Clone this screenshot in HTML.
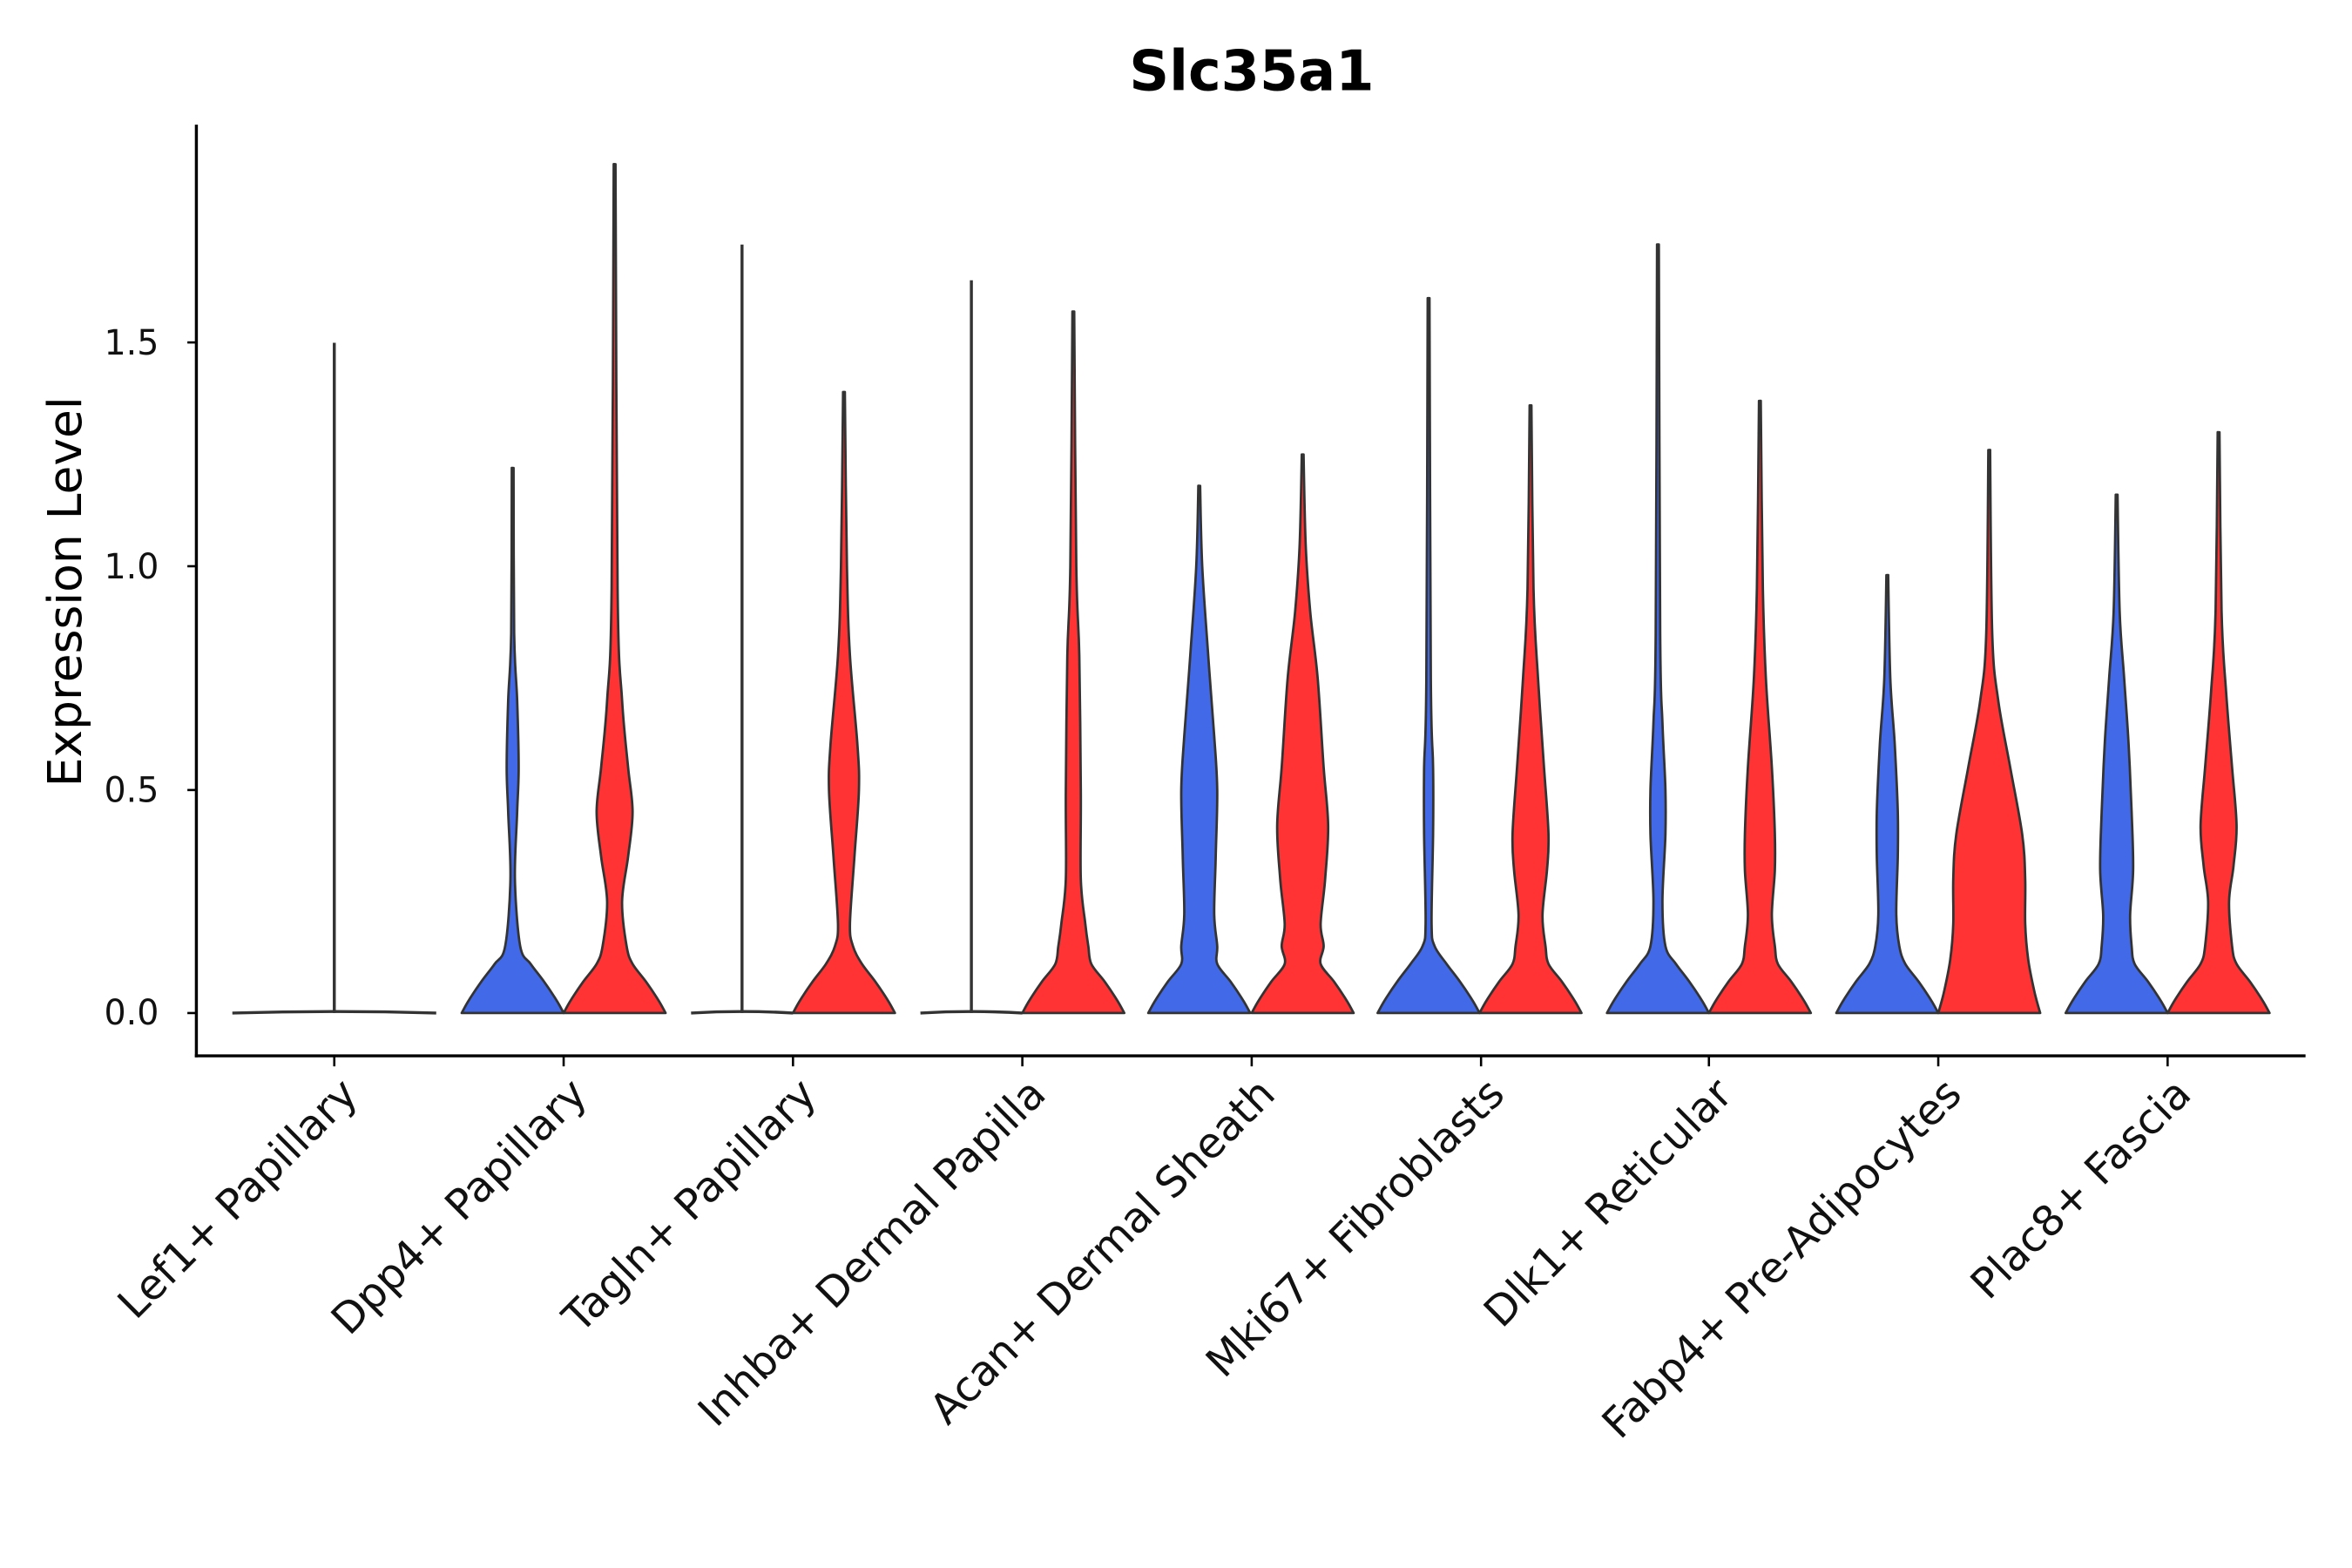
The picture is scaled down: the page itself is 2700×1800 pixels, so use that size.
<!DOCTYPE html>
<html><head><meta charset="utf-8"><style>html,body{margin:0;padding:0;background:#fff}svg{display:block}</style></head>
<body>
<svg id="s" xmlns="http://www.w3.org/2000/svg" width="2700" height="1800" viewBox="0 0 1569 1044" preserveAspectRatio="none" font-family="'DejaVu Sans', 'Liberation Sans', sans-serif">
<rect width="1569" height="1044" fill="#fff"/>
<g id="v"></g>
<line x1="131" y1="83" x2="131" y2="704" stroke="#000" stroke-width="2"/>
<line x1="130" y1="703" x2="1538" y2="703" stroke="#000" stroke-width="2"/>
<g stroke="#000" stroke-width="1.5">
<line x1="125" y1="674.5" x2="131" y2="674.5"/><line x1="125" y1="526" x2="131" y2="526"/><line x1="125" y1="377" x2="131" y2="377"/><line x1="125" y1="228" x2="131" y2="228"/>
<line x1="223" y1="703" x2="223" y2="710"/><line x1="376" y1="703" x2="376" y2="710"/><line x1="529" y1="703" x2="529" y2="710"/><line x1="682" y1="703" x2="682" y2="710"/><line x1="835" y1="703" x2="835" y2="710"/><line x1="988" y1="703" x2="988" y2="710"/><line x1="1140" y1="703" x2="1140" y2="710"/><line x1="1293" y1="703" x2="1293" y2="710"/><line x1="1446" y1="703" x2="1446" y2="710"/>
</g>
<g font-size="23" text-anchor="end" fill="#111">
<text x="106" y="682">0.0</text><text x="106" y="534">0.5</text><text x="106" y="385">1.0</text><text x="106" y="236">1.5</text>
</g>
<text x="835" y="60" font-size="37" font-weight="bold" text-anchor="middle">Slc35a1</text>
<text transform="translate(54,394) rotate(-90)" font-size="31" text-anchor="middle">Expression Level</text>
<g font-size="28" text-anchor="end" fill="#111">
<text transform="translate(240,730) rotate(-45)">Lef1+ Papillary</text>
<text transform="translate(393,730) rotate(-45)">Dpp4+ Papillary</text>
<text transform="translate(546,730) rotate(-45)">Tagln+ Papillary</text>
<text transform="translate(699,730) rotate(-45)">Inhba+ Dermal Papilla</text>
<text transform="translate(852,730) rotate(-45)">Acan+ Dermal Sheath</text>
<text transform="translate(1005,730) rotate(-45)">Mki67+ Fibroblasts</text>
<text transform="translate(1157,730) rotate(-45)">Dlk1+ Reticular</text>
<text transform="translate(1310,730) rotate(-45)">Fabp4+ Pre-Adipocytes</text>
<text transform="translate(1463,730) rotate(-45)">Plac8+ Fascia</text>
</g>
</svg>
<script>
const Y=v=>674.5-v*297.5;
function base(n){return [[0,34],[0.03,29],[0.07,21],[0.11,12],[0.15,n+2]];}
const V=[
 [223,'#444',null,1.5,68],
 [342,'#4169E8',[...base(3),[0.3,1.5],[0.45,3],[0.55,4],[0.7,3],[0.85,1],[1.22,0.6]]],
 [410,'#FF3333',[...base(6),[0.25,5],[0.35,9],[0.45,12],[0.55,9],[0.7,5],[0.95,2],[1.9,0.6]]],
 [495,'#444',null,1.72,34],
 [563,'#FF3333',[...base(4),[0.2,4],[0.35,7],[0.5,10],[0.6,9],[0.8,4],[1.0,2],[1.39,0.6]]],
 [648,'#444',null,1.64,34],
 [716,'#FF3333',[...base(8),[0.2,8],[0.3,5],[0.5,5],[0.8,4],[1.0,2],[1.57,0.6]]],
 [800,'#4169E8',[...base(10),[0.22,10],[0.35,11],[0.5,12],[0.62,10],[0.8,6],[1.0,2],[1.18,0.6]]],
 [869,'#FF3333',[...base(12),[0.2,12],[0.3,15],[0.42,17],[0.55,14],[0.75,10],[0.9,5],[1.05,2],[1.25,0.6]]],
 [953,'#4169E8',[...base(2),[0.2,2],[0.4,3],[0.55,3],[0.75,1.5],[1.6,0.6]]],
 [1021,'#FF3333',[...base(8),[0.22,8],[0.32,11],[0.4,12],[0.55,9],[0.75,5],[0.95,2],[1.36,0.6]]],
 [1106,'#4169E8',[...base(3),[0.25,3],[0.4,5],[0.5,5],[0.65,3],[0.85,1.5],[1.72,0.6]]],
 [1174,'#FF3333',[...base(8),[0.22,8],[0.32,10],[0.4,10],[0.55,8],[0.75,4],[0.95,2],[1.37,0.6]]],
 [1259,'#4169E8',[...base(6),[0.22,6],[0.35,7],[0.45,7],[0.6,5],[0.75,2],[0.98,0.6]]],
 [1327,'#FF3333',[[0,34],[0.05,30],[0.12,26],[0.2,24],[0.3,24],[0.4,22],[0.55,14],[0.7,6],[0.85,2],[1.26,0.6]]],
 [1412,'#4169E8',[...base(8),[0.22,9],[0.32,11],[0.45,10],[0.6,8],[0.75,5],[0.9,2],[1.16,0.6]]],
 [1480,'#FF3333',[...base(7),[0.25,7],[0.33,10],[0.42,12],[0.55,9],[0.72,5],[0.9,2],[1.3,0.6]]]
];
function smooth(pts){let d='M'+pts[0][0]+','+pts[0][1];for(let i=0;i<pts.length-1;i++){const p0=pts[Math.max(0,i-1)],p1=pts[i],p2=pts[i+1],p3=pts[Math.min(pts.length-1,i+2)];const c1=[p1[0]+(p2[0]-p0[0])/6,p1[1]+(p2[1]-p0[1])/6],c2=[p2[0]-(p3[0]-p1[0])/6,p2[1]-(p3[1]-p1[1])/6];d+=`C${c1[0].toFixed(1)},${c1[1].toFixed(1)} ${c2[0].toFixed(1)},${c2[1].toFixed(1)} ${p2[0].toFixed(1)},${p2[1].toFixed(1)}`;}return d;}
let out='';
for(const v of V){const cx=v[0];
 if(!v[2]){out+=`<line x1="${cx}" y1="${Y(v[3])}" x2="${cx}" y2="${Y(0)}" stroke="#333" stroke-width="2"/><path d="M${cx-v[4]},${Y(0)} Q${cx},${Y(0)-2} ${cx+v[4]},${Y(0)}" fill="none" stroke="#333" stroke-width="2"/>`;continue;}
 const p=v[2];const R=p.map(a=>[cx+a[1],Y(a[0])]);const L=p.slice().reverse().map(a=>[cx-a[1],Y(a[0])]);
 out+=`<path d="${smooth(R)} L${L[0][0]},${L[0][1]} ${smooth(L).slice(1).replace(/^[^C]*/,'')} Z" fill="${v[1]}" stroke="#333" stroke-width="1.6" stroke-linejoin="round"/>`;
}
document.getElementById('v').innerHTML=out;
</script>
</body></html>
